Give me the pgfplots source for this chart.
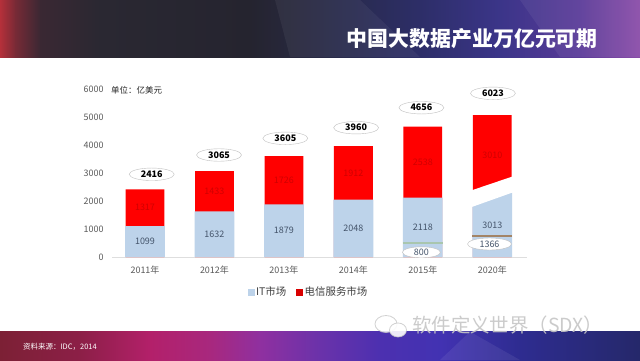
\documentclass[border=0pt]{standalone}
\usepackage{pgfplots}
\pgfplotsset{compat=1.18}
\usepackage{fontspec}
\setmainfont{Noto Sans CJK SC}
\usetikzlibrary{shapes.geometric}
\definecolor{itblue}{HTML}{BDD3EA}
\definecolor{telred}{HTML}{FF0000}
\definecolor{lblgray}{HTML}{595959}
\definecolor{inlbl}{HTML}{44546A}
\definecolor{redlbl}{HTML}{D00000}
\definecolor{greenline}{HTML}{A9C6AE}
\definecolor{brownline}{HTML}{A38466}
% top banner colours
\definecolor{t0}{HTML}{B5303A}
\definecolor{t1}{HTML}{782A36}
\definecolor{t2}{HTML}{3A2833}
\definecolor{t3}{HTML}{2A2832}
\definecolor{t4}{HTML}{25242F}
\definecolor{t5}{HTML}{282A48}
\definecolor{t6}{HTML}{2D2E68}
\definecolor{t7}{HTML}{3B3589}
\definecolor{t8}{HTML}{5A3A98}
\definecolor{t9}{HTML}{8A4CA8}
% bottom banner colours
\definecolor{b0}{HTML}{7C2035}
\definecolor{b1}{HTML}{8C1F47}
\definecolor{b2}{HTML}{B3206A}
\definecolor{b3}{HTML}{A8287E}
\definecolor{b4}{HTML}{8F30A0}
\definecolor{b5}{HTML}{6A32AA}
\definecolor{b6}{HTML}{4C30B0}
\definecolor{b7}{HTML}{4232B2}
\definecolor{b8}{HTML}{2E2C90}
\definecolor{b9}{HTML}{25286A}
\begin{document}
\begin{tikzpicture}[x=1bp,y=1bp]
\path[use as bounding box] (0,0) rectangle (640,360);
\fill[white] (0,0) rectangle (640,360);
% ---- top banner
\shade[left color=t0,right color=t1] (0,303) rectangle (15.5,360);
\shade[left color=t1,right color=t2] (15,303) rectangle (40.5,360);
\shade[left color=t2,right color=t3] (40,303) rectangle (100.5,360);
\shade[left color=t3,right color=t4] (100,303) rectangle (250.5,360);
\shade[left color=t4,right color=t5] (250,303) rectangle (330.5,360);
\shade[left color=t5,right color=t6] (330,303) rectangle (420.5,360);
\shade[left color=t6,right color=t7] (420,303) rectangle (500.5,360);
\shade[left color=t7,right color=t8] (500,303) rectangle (580.5,360);
\shade[left color=t8,right color=t9] (580,303) rectangle (640,360);
\fill[white,opacity=0.05] (275,360) -- (290,303) -- (420,303) -- (360,360) -- cycle;
\fill[white,opacity=0.06] (520,360) -- (560,303) -- (640,303) -- (640,360) -- cycle;
\node[anchor=east,inner sep=0pt,text=white,font=\bfseries\fontsize{21}{21}\selectfont] at (598,321) {中国大数据产业万亿元可期};
% ---- bottom banner
\shade[left color=b0,right color=b1] (0,0) rectangle (80.5,28.3);
\shade[left color=b1,right color=b2] (80,0) rectangle (150.5,28.3);
\shade[left color=b2,right color=b3] (150,0) rectangle (210.5,28.3);
\shade[left color=b3,right color=b4] (210,0) rectangle (260.5,28.3);
\shade[left color=b4,right color=b5] (260,0) rectangle (320.5,28.3);
\shade[left color=b5,right color=b6] (320,0) rectangle (380.5,28.3);
\shade[left color=b6,right color=b7] (380,0) rectangle (440.5,28.3);
\shade[left color=b7,right color=b8] (440,0) rectangle (520.5,28.3);
\shade[left color=b8,right color=b9] (520,0) rectangle (640,28.3);
\fill[white,opacity=0.07] (470,28.3) -- (440,0) -- (520,0) -- cycle;
\node[anchor=west,inner sep=0pt,text=white,font=\fontsize{7.5}{7.5}\selectfont] at (23,13.3) {资料来源：IDC，2014};
% ---- watermark
\fill[white,opacity=0.85] (386,36) ellipse (11 and 8.5);
\draw[gray!45,opacity=0.8,line width=0.8bp] (386,36) ellipse (11 and 8.5);
\fill[white,opacity=0.9] (398,30) ellipse (8.5 and 7);
\draw[gray!45,opacity=0.8,line width=0.8bp] (398,30) ellipse (8.5 and 7);
\node[anchor=west,inner sep=0pt,text=gray!45,opacity=0.9,font=\fontsize{19.5}{19.5}\selectfont] at (412,35) {软件定义世界（SDX）};
% ---- unit
\node[anchor=west,inner sep=0pt,text=black!85,font=\fontsize{8.5}{8.5}\selectfont] at (111,270) {单位：亿美元};
\begin{axis}[
  at={(112bp,103bp)}, anchor=south west,
  scale only axis, width=415bp, height=168bp,
  xmin=-0.475, xmax=5.5, ymin=0, ymax=6000,
  xtick={0,1,2,3,4,5},
  xticklabels={2011年,2012年,2013年,2014年,2015年,2020年},
  ytick={0,1000,2000,3000,4000,5000,6000},
  axis x line=bottom, axis y line=left,
  y axis line style={draw=none},
  x axis line style={-, draw=black!13, line width=0.8bp},
  major tick length=0pt,
  tick style={draw=none},
  tick label style={font=\fontsize{9}{9}\selectfont, text=lblgray},
  /pgf/number format/assume math mode=true,
  /pgf/number format/1000 sep={},
  yticklabel style={xshift=-5bp},
  xticklabel style={yshift=-5bp},
  clip=false,
  legend style={at={(0.4735,-0.208)}, anchor=center, draw=none, fill=none,
    legend columns=2, font=\fontsize{10.5}{10.5}\selectfont, text=black!75,
    /tikz/every even column/.append style={column sep=8bp}},
]
\addplot[ybar, bar width=38.8bp, bar shift=0pt, fill=telred, draw=none, forget plot]
  coordinates {(0,2416)(1,3065)(2,3605)(3,3960)(4,4656)(5,5071)};
\addplot[ybar, bar width=39.8bp, bar shift=0pt, fill=itblue, draw=none, forget plot]
  coordinates {(0,1099)(1,1632)(2,1879)(3,2048)(4,2118)(5,2296)};
% break of the 2020 bar
\addplot[fill=white, draw=none, forget plot]
  coordinates {(4.68,1764)(5.32,2329)(5.32,2899)(4.68,2362)} --cycle;
% thin marker lines
\addplot[draw=greenline, line width=2.3bp, forget plot] coordinates {(3.714,507)(4.286,507)};
\addplot[draw=brownline, line width=2bp, forget plot] coordinates {(4.714,750)(5.286,750)};
% IT labels
\addplot[draw=none, forget plot, nodes near coords, point meta=explicit symbolic,
  every node near coord/.append style={anchor=center, font=\fontsize{9}{9}\selectfont, text=inlbl}]
  table[meta=label]{
x y label
0 549 1099
1 816 1632
2 940 1879
3 1024 2048
4 1050 2118
5 1118 3013
};
% telecom labels
\addplot[draw=none, forget plot, nodes near coords, point meta=explicit symbolic,
  every node near coord/.append style={anchor=center, font=\fontsize{9}{9}\selectfont, text=redlbl}]
  table[meta=label]{
x y label
0 1770 1317
1 2349 1433
2 2742 1726
3 3004 1912
4 3387 2538
5 3643 3010
};
% totals
\addplot[draw=none, forget plot, nodes near coords, point meta=explicit symbolic,
  every node near coord/.append style={anchor=center, ellipse, draw=black!25, fill=white,
    minimum width=45bp, minimum height=12.5bp, inner sep=0pt,
    font=\bfseries\fontsize{9}{9}\selectfont, text=black}]
  table[meta=label]{
x y label
0.097 2954 2416
1.066 3643 3065
2.02 4239 3605
3.04 4618 3960
3.98 5332 4656
5.01 5846 6023
};
% small ellipses
\addplot[draw=none, forget plot, nodes near coords, point meta=explicit symbolic,
  every node near coord/.append style={anchor=center, ellipse, draw=black!25, fill=white,
    minimum width=38bp, minimum height=11bp, inner sep=0pt,
    font=\fontsize{9}{9}\selectfont, text=inlbl}]
  table[meta=label]{
x y label
3.98 168 800
};
\addplot[draw=none, forget plot, nodes near coords, point meta=explicit symbolic,
  every node near coord/.append style={anchor=center, ellipse, draw=black!25, fill=white,
    minimum width=44bp, minimum height=12bp, inner sep=0pt,
    font=\fontsize{9}{9}\selectfont, text=inlbl}]
  table[meta=label]{
x y label
4.96 464 1366
};
\addlegendimage{legend image code/.code={\fill[itblue] (0bp,-3bp) rectangle (6bp,3bp);}}
\addlegendentry{IT市场}
\addlegendimage{legend image code/.code={\fill[telred!85!black] (0bp,-3bp) rectangle (6bp,3bp);}}
\addlegendentry{电信服务市场}
\end{axis}
\end{tikzpicture}
\end{document}
